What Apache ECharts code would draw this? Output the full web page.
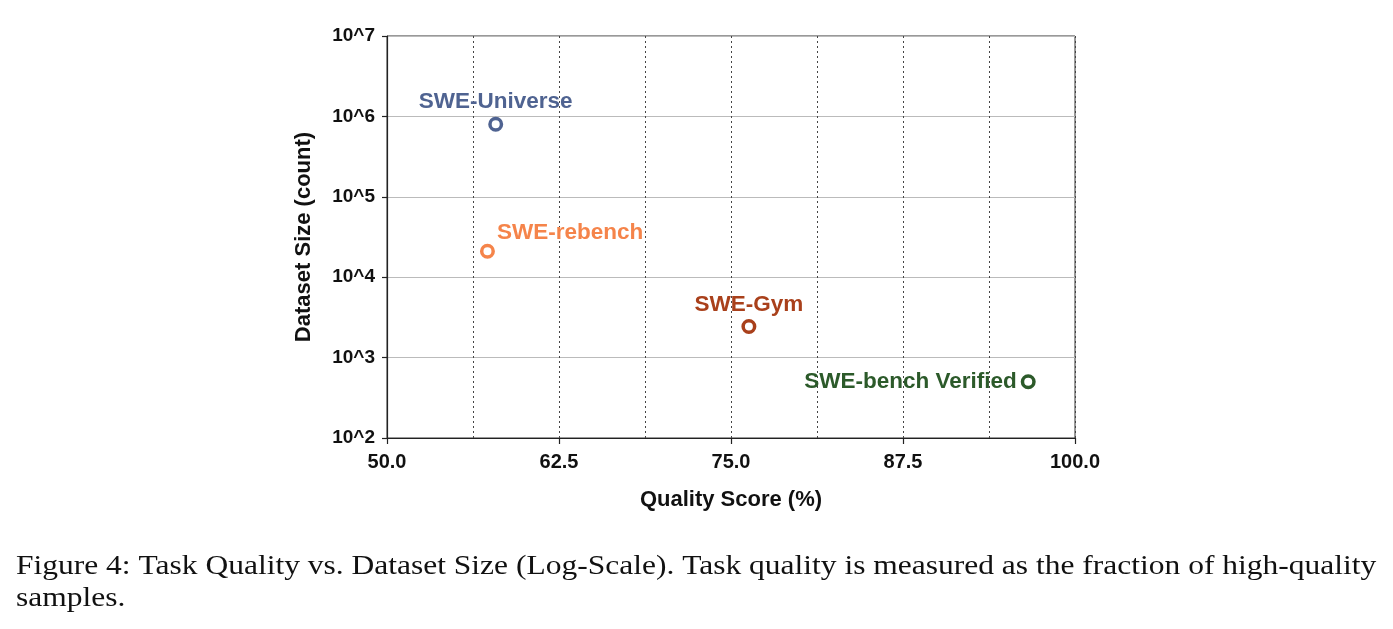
<!DOCTYPE html>
<html>
<head>
<meta charset="utf-8" />
<title>Task Quality vs. Dataset Size</title>
<script src="https://cdn.jsdelivr.net/npm/echarts@6/dist/echarts.min.js"></script>
<style>
  html, body { margin: 0; padding: 0; background: #fff; }
  #container { width: 1393px; height: 629px; }
</style>
</head>
<body>
<div id="container"></div>
<script>
// data
var names = ['SWE-Universe', 'SWE-rebench', 'SWE-Gym', 'SWE-bench Verified'];
var quality = [57.9, 57.3, 76.3, 96.6];
var sizes = [800000, 21000, 2438, 500];
var colors = ['#4f6391', '#f5844a', '#a9401b', '#2c5a2a'];

var labelFont = 'Liberation Sans, Arial, Helvetica, sans-serif';

// where each label sits relative to its point
var labelPos = [
  { position: 'top', distance: 3, align: 'center' },
  { position: [17, -11], align: 'left', verticalAlign: 'middle' },
  { position: 'top', distance: 3, align: 'center' },
  { position: 'left', distance: 4, align: 'right' }
];

var dom = document.getElementById('container');
var myChart = echarts.init(dom, null, { renderer: 'canvas' });

var series = names.map(function (n, i) {
  var lab = {
    show: true,
    formatter: n,
    color: colors[i],
    fontFamily: labelFont,
    fontWeight: 'bold',
    fontSize: 22.5
  };
  for (var k in labelPos[i]) lab[k] = labelPos[i][k];
  return {
    name: n,
    type: 'scatter',
    data: [[quality[i], sizes[i]]],
    symbol: 'circle',
    symbolSize: 11.5,
    itemStyle: { color: '#fff', borderColor: colors[i], borderWidth: 3.5, opacity: 1 },
    label: lab,
    emphasis: { disabled: true },
    z: 5
  };
});

var option = {
  animation: false,
  backgroundColor: '#fff',
  textStyle: { fontFamily: labelFont },
  grid: {
    left: 387, right: 318, top: 36, bottom: 191,
    show: true, borderColor: '#333', borderWidth: 1, backgroundColor: 'transparent'
  },
  xAxis: {
    type: 'value',
    min: 50, max: 100, interval: 12.5,
    name: 'Quality Score (%)',
    nameLocation: 'middle',
    nameGap: 51,
    nameTextStyle: { fontFamily: labelFont, fontWeight: 'bold', fontSize: 22, color: '#111' },
    axisLine: { show: true, lineStyle: { color: '#222', width: 1.2 } },
    axisTick: { show: true, length: 6, lineStyle: { color: '#222', width: 1.2 } },
    axisLabel: {
      margin: 14,
      fontFamily: labelFont, fontWeight: 'bold', fontSize: 20, color: '#111',
      formatter: function (v) { return v.toFixed(1); }
    },
    splitLine: { show: true, lineStyle: { color: '#444', type: [2, 3], width: 1 } },
    minorTick: { show: false, splitNumber: 2 },
    minorSplitLine: { show: true, lineStyle: { color: '#444', type: [2, 3], width: 1 } }
  },
  yAxis: {
    type: 'log',
    logBase: 10,
    min: 100, max: 10000000,
    name: 'Dataset Size (count)',
    nameLocation: 'middle',
    nameGap: 72,
    nameTextStyle: { fontFamily: labelFont, fontWeight: 'bold', fontSize: 22, color: '#111' },
    axisLine: { show: true, lineStyle: { color: '#222', width: 1.2 } },
    axisTick: { show: true, length: 5, lineStyle: { color: '#222', width: 1.2 } },
    axisLabel: {
      margin: 12,
      fontFamily: labelFont, fontWeight: 'bold', fontSize: 19, color: '#111',
      formatter: function (v) { return '10^' + Math.round(Math.log10(v)); }
    },
    splitLine: { show: true, lineStyle: { color: '#bbb', width: 1.2 } }
  },
  graphic: [
    {
      type: 'text', left: 16, top: 551,
      scaleX: 1.125,
      style: {
        text: 'Figure 4: Task Quality vs. Dataset Size (Log-Scale). Task quality is measured as the fraction of high-quality\nsamples.',
        font: '28px "Liberation Serif", "DejaVu Serif", serif',
        fill: '#111',
        lineHeight: 32
      }
    }
  ],
  series: series
};

myChart.setOption(option);
</script>
</body>
</html>
